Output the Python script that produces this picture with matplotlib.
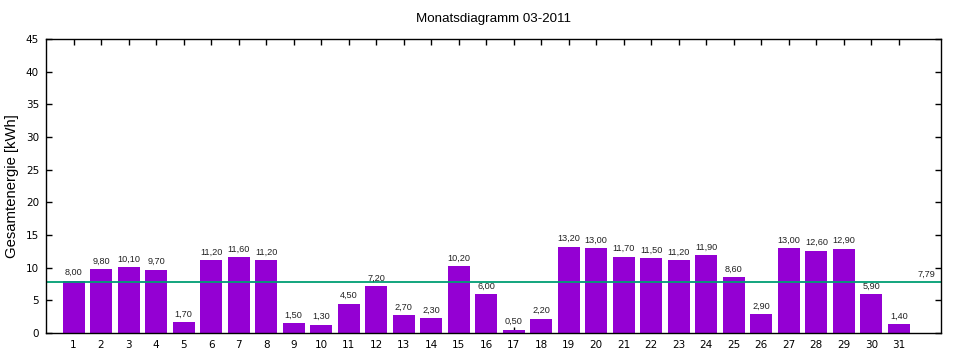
import matplotlib
matplotlib.use("Agg")
import matplotlib.pyplot as plt

days = list(range(1, 32))
values = [8.00, 9.80, 10.10, 9.70, 1.70, 11.20, 11.60, 11.20, 1.50, 1.30,
          4.50, 7.20, 2.70, 2.30, 10.20, 6.00, 0.50, 2.20, 13.20, 13.00,
          11.70, 11.50, 11.20, 11.90, 8.60, 2.90, 13.00, 12.60, 12.90, 5.90, 1.40]
average = 7.79
title = "Monatsdiagramm 03-2011"
ylabel = "Gesamtenergie [kWh]"
yticks = list(range(0, 50, 5))

plt.rcParams['font.family'] = ['DejaVu Sans']
fig = plt.figure(figsize=(9.6, 3.6), dpi=100)
ax = fig.add_axes([46/960, 27/360, (941-46)/960, (333-39)/360])
ax.set_axisbelow(True)

ax.bar(days, values, width=0.8, color='#9400d3', zorder=2)
ax.axhline(average, color='#009e73', lw=1.3, zorder=3)

def fmt(v):
    return f"{v:.2f}".replace('.', ',')

lab_font = ['Liberation Sans', 'DejaVu Sans']
for d, v in zip(days, values):
    ax.annotate(fmt(v), (d, v), xytext=(0, 2.5), textcoords='offset points',
                ha='center', va='bottom', fontsize=6.6, color='#222222',
                family=lab_font)
ax.annotate(fmt(average), (32, average), xytext=(0, 2.5), textcoords='offset points',
            ha='center', va='bottom', fontsize=6.6, color='#222222', family=lab_font)

ax.set_xlim(0, 32.53)
ax.set_ylim(0, 45)
ax.set_xticks(days)
ax.set_xticklabels([str(d) for d in days])
ax.set_yticks(yticks)
ax.tick_params(direction='in', length=4, width=1, labelsize=7.5,
               top=True, right=True, pad=5)
for s in ax.spines.values():
    s.set_linewidth(1)
    s.set_zorder(4)
ax.set_title(title, fontsize=9.6, pad=12, family=lab_font)
ax.set_ylabel(ylabel, fontsize=10.7, labelpad=5, family=lab_font)

fig.savefig("out.png", dpi=100)
